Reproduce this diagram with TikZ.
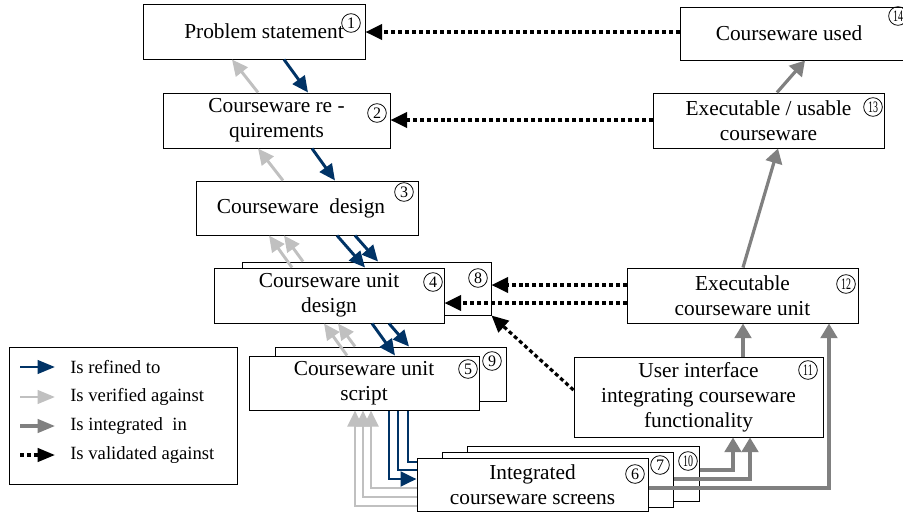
\documentclass[tikz,border=0pt]{standalone}
\usepackage{fontspec}
\setmainfont{Liberation Serif}
\usepackage{graphicx}
\usetikzlibrary{arrows.meta}
\definecolor{navy}{HTML}{003366}
\definecolor{lgrey}{HTML}{C0C0C0}
\definecolor{mgrey}{HTML}{808080}
\newcommand\boxfont{\fontsize{16pt}{18.75pt}\selectfont}
\newcommand\legfont{\fontsize{14pt}{16pt}\selectfont}
\newcommand\numfont{\fontsize{12pt}{12pt}\selectfont}
\newcommand\tw[1]{\scalebox{0.62}[1]{#1}}
\begin{document}
\begin{tikzpicture}[x=0.75pt,y=-0.75pt,
  box/.style={draw, fill=white, line width=0.75pt, inner sep=1pt, align=center, font=\boxfont},
  num/.style={draw, circle, inner sep=0pt, minimum size=14pt, line width=0.6pt, font=\numfont},
  legtext/.style={anchor=west, inner sep=0pt, font=\legfont},
  refined/.style={navy, line width=2.2pt, -{Triangle[length=12pt,width=11pt]}},
  refinedline/.style={navy, line width=2.2pt},
  verified/.style={lgrey, line width=2.2pt, -{Triangle[length=12pt,width=11pt]}},
  integrated/.style={mgrey, line width=2.4pt, -{Triangle[length=11pt,width=12.5pt]}},
  validated/.style={black, line width=2.4pt, dash pattern=on 3pt off 2.2pt, -{Triangle[length=12.5pt,width=11.5pt]}}
]
\useasboundingbox (0,0) rectangle (903,515);
\clip (0,0) rectangle (903,515);
\fill[white] (0,0) rectangle (903,515);

% back boxes
\node[box, minimum width=186.75pt, minimum height=39.75pt] (n8) at (366.5,288.5) {};
\node[box, minimum width=173.25pt, minimum height=40.5pt] (n9) at (390.5,374) {};
\node[box, minimum width=174pt, minimum height=41.25pt] (n10) at (583,473.5) {};
\node[box, minimum width=173.25pt, minimum height=41.25pt] (n7) at (557.5,479.5) {};

% front boxes
\node[box, minimum width=166.5pt, minimum height=41.25pt] (n1) at (254,31.5) {\hspace*{15pt}Problem statement};
\node[box, minimum width=170.25pt, minimum height=41.25pt] (n2) at (276.5,120.5) {Courseware re -\\quirements};
\node[box, minimum width=166.5pt, minimum height=40.5pt] (n3) at (307,208) {Courseware\ \ design\hspace*{9pt}};
\node[box, minimum width=172.5pt, minimum height=41.25pt] (n4) at (329,295.5) {Courseware unit\\design};
\node[box, minimum width=172.5pt, minimum height=40.5pt] (n5) at (364,383) {Courseware unit\\script};
\node[box, minimum width=173.25pt, minimum height=39.75pt] (n6) at (532.5,484.5) {Integrated\\courseware screens};
\node[box, minimum width=186.75pt, minimum height=60pt] (n11) at (698.5,397) {User interface\\integrating courseware\\functionality};
\node[box, minimum width=173.25pt, minimum height=41.25pt] (n12) at (742.5,295.5) {Executable\\courseware unit};
\node[box, minimum width=173.25pt, minimum height=41.25pt] (n13) at (768.5,120.5) {Executable / usable\\courseware};
\node[box, minimum width=173.25pt, minimum height=39.75pt] (n14) at (795.5,33.5) {Courseware used\hspace*{9.75pt}};

% legend
\node[box, minimum width=171pt, minimum height=102.75pt] (legend) at (123,415.5) {};
\coordinate (la1) at (20,367); \coordinate (lb1) at (55,367);
\coordinate (la2) at (20,397); \coordinate (lb2) at (55,397);
\coordinate (la3) at (20,426); \coordinate (lb3) at (55,426);
\coordinate (la4) at (20,455); \coordinate (lb4) at (55,455);
\draw[refined, -{Triangle[length=13pt,width=10pt]}] (la1) -- (lb1);
\draw[verified, -{Triangle[length=13pt,width=10pt]}] (la2) -- (lb2);
\draw[integrated, -{Triangle[length=13pt,width=10pt]}] (la3) -- (lb3);
\draw[validated, -{Triangle[length=13pt,width=10pt]}] (la4) -- (lb4);
\node[legtext] (l1) at (70,367) {Is refined to};
\node[legtext] (l2) at (70,397) {Is verified against};
\node[legtext] (l3) at (70,426) {Is integrated\ \ in};
\node[legtext] (l4) at (70,455) {Is validated against};

% refined arrows
\draw[refined] (284,0 |- n1.south) -- (308,0 |- n2.north);
\draw[refined] (312,0 |- n2.south) -- (335,0 |- n3.north);
\draw[refined] (337,0 |- n3.south) -- (365,0 |- n4.north);
\draw[refined] (355,0 |- n3.south) -- (378,0 |- n8.north);
\draw[refined] (372,0 |- n4.south) -- (395,0 |- n5.north);
\draw[refined] (389,0 |- n4.south) -- (409,0 |- n9.north);
\draw[refinedline] (408,0 |- n5.south) |- (n6.west |- 0,462);
\draw[refinedline] (398,0 |- n5.south) |- (n6.west |- 0,470);
\draw[refined] (389,0 |- n5.south) |- (n6.west |- 0,479);

% verified arrows
\draw[verified] (258,0 |- n2.north) -- (232,0 |- n1.south);
\draw[verified] (283,0 |- n3.north) -- (258,0 |- n2.south);
\draw[verified] (292,0 |- n4.north) -- (269,0 |- n3.south);
\draw[verified] (303,0 |- n8.north) -- (284,0 |- n3.south);
\draw[verified] (347,0 |- n5.north) -- (324,0 |- n4.south);
\draw[verified] (355,0 |- n9.north) -- (338,0 |- n4.south);
\draw[verified] (n6.west |- 0,488) -| (371,0 |- n5.south);
\draw[verified] (n6.west |- 0,497) -| (363,0 |- n5.south);
\draw[verified] (n6.west |- 0,506) -| (355,0 |- n5.south);

% integrated arrows
\draw[integrated] (n10.east |- 0,470) -| (733,0 |- n11.south);
\draw[integrated] (n7.east |- 0,479) -| (750,0 |- n11.south);
\draw[integrated] (n6.east |- 0,488) -| (829,0 |- n12.south);
\draw[integrated] (743,0 |- n11.north) -- (743,0 |- n12.south);
\draw[integrated] (743,0 |- n12.north) -- (778,0 |- n13.south);
\draw[integrated] (777,0 |- n13.north) -- (805,0 |- n14.south);

% validated arrows
\draw[validated] (n14.west |- 0,32) -- (n1.east |- 0,32);
\draw[validated] (n13.west |- 0,120) -- (n2.east |- 0,120);
\draw[validated] (n12.west |- 0,285) -- (n8.east |- 0,285);
\draw[validated] (n12.west |- 0,303) -- (n4.east |- 0,303);
\draw[validated] (n11.west |- 0,390) -- (n8.south east);

% circled numbers
\node[num] (c1) at (351,23) {1};
\node[num] (c2) at (377,113) {2};
\node[num] (c3) at (404,192) {3};
\node[num] (c4) at (433,282) {4};
\node[num] (c8) at (478,278) {8};
\node[num] (c5) at (468,369) {5};
\node[num] (c9) at (492,361) {9};
\node[num] (c6) at (635,474) {6};
\node[num] (c7) at (660,465) {7};
\node[num] (c10) at (688,461) {\tw{10}};
\node[num] (c11) at (808,370) {\tw{11}};
\node[num] (c12) at (846,284) {\tw{12}};
\node[num] (c13) at (873,107) {\tw{13}};
\node[num] (c14) at (898,16) {\tw{14}};
\end{tikzpicture}
\end{document}
